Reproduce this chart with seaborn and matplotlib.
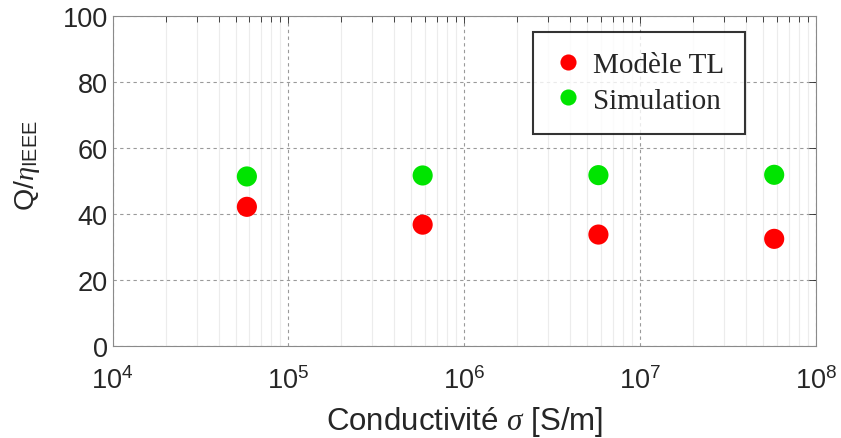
import numpy as np
import pandas as pd
import matplotlib
matplotlib.use("Agg")
import matplotlib.pyplot as plt
import seaborn as sns

# values
conductivity = [5.8e4, 5.8e5, 5.8e6, 5.8e7]
q_model_tl = [42.1, 36.7, 33.7, 32.4]
q_simulation = [51.3, 51.6, 51.7, 51.8]
series_names = ["Modèle TL", "Simulation"]

df = pd.DataFrame({
    "sigma": conductivity * 2,
    "Q": q_model_tl + q_simulation,
    "serie": [series_names[0]] * 4 + [series_names[1]] * 4,
})

sns.set_theme(style="white")
plt.rcParams["font.family"] = ["Liberation Sans", "DejaVu Sans"]
plt.rcParams["mathtext.fontset"] = "custom"
plt.rcParams["mathtext.it"] = "Liberation Serif:italic"
plt.rcParams["mathtext.rm"] = "Liberation Sans"

fig, ax = plt.subplots(figsize=(8.41, 4.39), dpi=100)
fig.subplots_adjust(left=0.134, right=0.970, top=0.962, bottom=0.21)

sns.scatterplot(data=df, x="sigma", y="Q", hue="serie",
                palette={"Modèle TL": "#ff0000", "Simulation": "#00e400"},
                s=210, edgecolor="none", ax=ax, zorder=3)

ax.set_xscale("log")
ax.set_xlim(1e4, 1e8)
ax.set_ylim(0, 100)
ax.set_yticks([0, 20, 40, 60, 80, 100])
ax.set_xticks([1e4, 1e5, 1e6, 1e7, 1e8])

ax.grid(True, which="major", linestyle=(0, (3, 3)), color="#9a9a9a", linewidth=0.8)
ax.grid(True, which="minor", axis="x", linestyle="-", color="#ececec", linewidth=0.8)
ax.set_axisbelow(True)

ax.tick_params(axis="both", which="both", direction="in", top=True, right=True,
               labelsize=19.5, colors="#262626", length=4, width=0.6)
ax.tick_params(axis="both", which="major", length=5)
ax.tick_params(axis="x", which="major", labelsize=19.5, pad=15)
for sp in ax.spines.values():
    sp.set_color("#8a8a8a")
    sp.set_linewidth(0.8)

ax.set_xlabel(r"Conductivité $\sigma$ [S/m]", fontsize=22.5, color="#262626", va="top")
ax.xaxis.set_label_coords(0.5, -0.175)
ax.set_ylabel(r"Q/$\eta_{\mathrm{IEEE}}$", fontsize=20.5, color="#262626")
ax.yaxis.set_label_coords(-0.10, 0.55)

leg = ax.legend(loc="upper right", bbox_to_anchor=(0.899, 0.952), frameon=True,
                fancybox=False, edgecolor="black", markerscale=0.8, borderaxespad=0,
                prop={"family": "Liberation Serif", "size": 21},
                handletextpad=0.35, borderpad=0.7, labelspacing=0.3, handlelength=1.0)
leg.get_frame().set_linewidth(1.5)
leg.set_title(None)

fig.savefig("out.png", dpi=100)
